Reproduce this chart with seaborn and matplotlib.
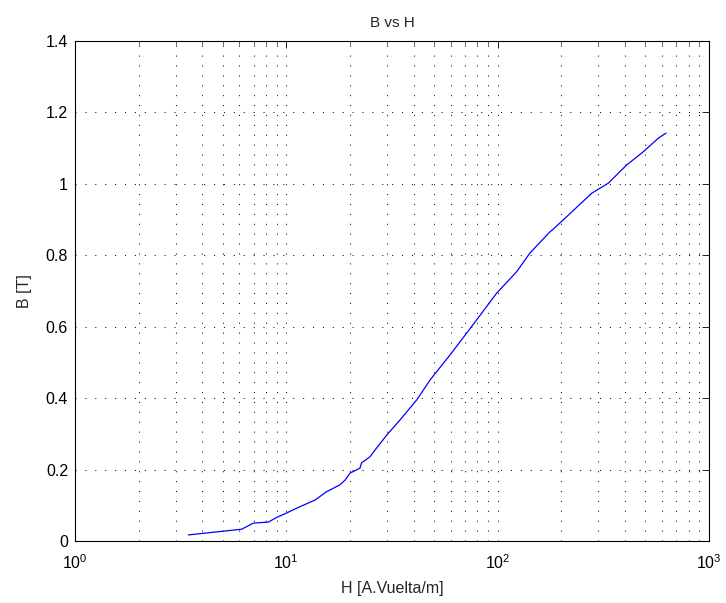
import matplotlib
matplotlib.use("Agg")
import matplotlib.pyplot as plt
from matplotlib.ticker import LogLocator, FixedLocator, NullFormatter, LogFormatterSciNotation
import seaborn as sns
import pandas as pd

H_values = [3.44, 6.15, 6.98, 8.22, 9.0, 10.0, 11.2, 13.7, 15.5, 17.9, 19.0, 20.0, 22.3, 22.7,
            24.9, 26.3, 29.9, 34.5, 41.4, 47.9, 59.5, 71.3, 79.5, 98.9, 123, 142, 177, 183,
            212, 279, 334, 408, 489, 576, 626]
B_values = [0.017, 0.033, 0.050, 0.053, 0.066, 0.078, 0.092, 0.115, 0.138, 0.157, 0.171, 0.190,
            0.204, 0.219, 0.236, 0.255, 0.297, 0.339, 0.395, 0.451, 0.521, 0.582, 0.619, 0.694,
            0.754, 0.806, 0.866, 0.873, 0.908, 0.974, 1.002, 1.053, 1.090, 1.128, 1.142]
y_ticks = [0, 0.2, 0.4, 0.6, 0.8, 1.0, 1.2, 1.4]
y_tick_labels = ["0", "0.2", "0.4", "0.6", "0.8", "1", "1.2", "1.4"]
title = "B vs H"
xlabel = "H [A.Vuelta/m]"
ylabel = "B [T]"

df = pd.DataFrame({"H": H_values, "B": B_values})

sns.set_theme(style="white")
plt.rcParams["font.family"] = ["Liberation Sans", "DejaVu Sans"]
plt.rcParams["mathtext.default"] = "regular"

fig = plt.figure(figsize=(7.26, 6.03), dpi=100)
ax = fig.add_axes([75/726, 1 - 541/603, (709 - 75)/726, (541 - 41)/603])

sns.lineplot(data=df, x="H", y="B", ax=ax, color="#0000ff", linewidth=0.9, sort=False)

ax.set_xscale("log")
ax.set_xlim(1, 1000)
ax.set_ylim(0, 1.4)
ax.xaxis.set_major_locator(LogLocator(base=10, numticks=10))
ax.xaxis.set_minor_locator(LogLocator(base=10, subs=range(2, 10), numticks=20))
ax.xaxis.set_minor_formatter(NullFormatter())
ax.xaxis.set_major_formatter(LogFormatterSciNotation())
ax.yaxis.set_major_locator(FixedLocator(y_ticks))
ax.set_yticklabels(y_tick_labels)

dots = (0, (1, 8.5))
ax.grid(True, which="major", axis="both", linestyle=dots, color="#111111", linewidth=0.75)
ax.grid(True, which="minor", axis="x", linestyle=dots, color="#111111", linewidth=0.75)

ax.tick_params(which="major", direction="in", length=5, width=0.6, top=True, right=True,
               labelsize=11.5, colors="black")
ax.tick_params(axis="x", which="major", pad=9)
ax.tick_params(axis="y", which="major", pad=5)
ax.tick_params(which="minor", direction="in", length=3, width=0.5, top=True, right=True)
for s in ax.spines.values():
    s.set_color("black")
    s.set_linewidth(0.8)

ax.set_title(title, fontsize=11, pad=10)
ax.set_xlabel(xlabel, fontsize=11.5, labelpad=6)
ax.set_ylabel(ylabel, fontsize=11.5, labelpad=10)

fig.savefig("out.png", dpi=100)
